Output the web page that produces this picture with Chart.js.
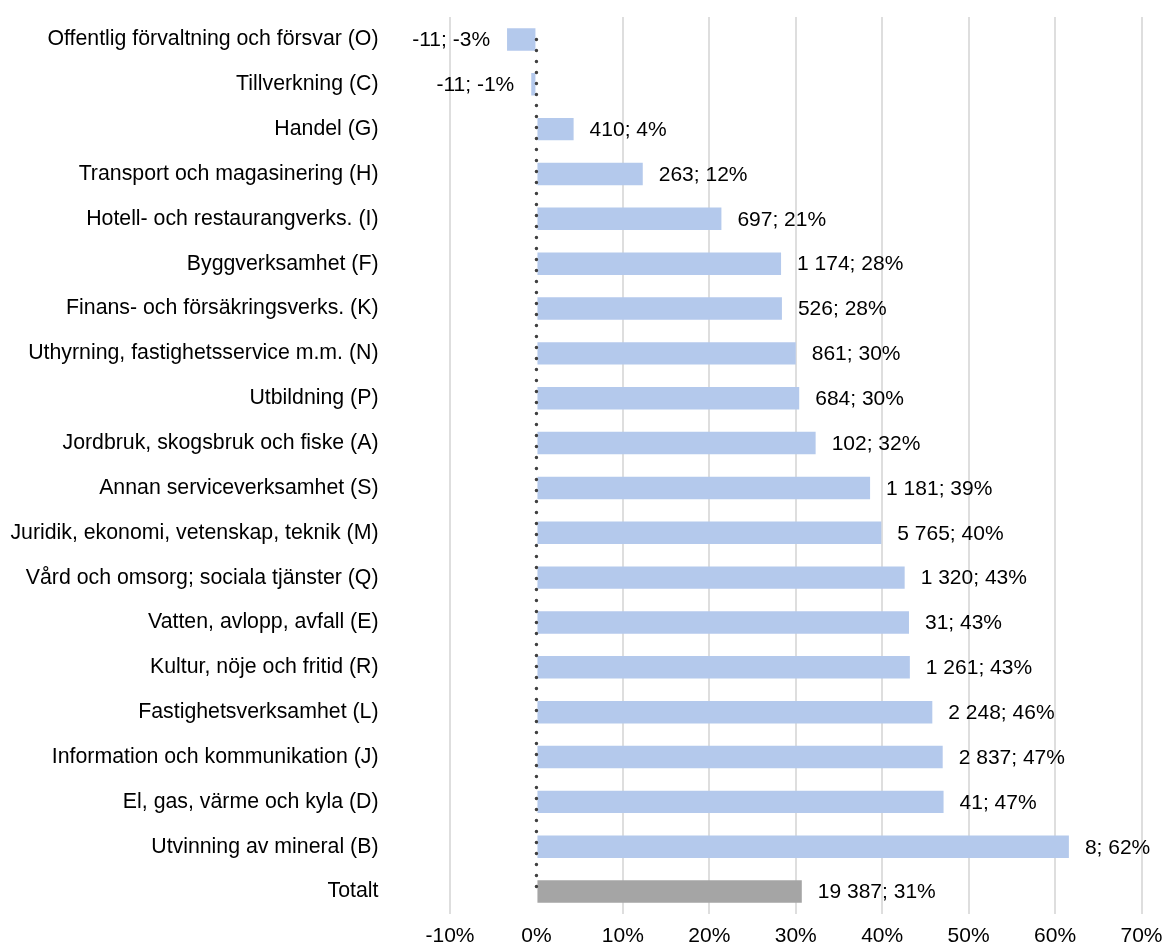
<!DOCTYPE html>
<html>
<head>
<meta charset="utf-8">
<script src="https://cdn.jsdelivr.net/npm/chart.js@4/dist/chart.umd.min.js"></script>
<style>
  html, body { margin: 0; padding: 0; background: #fff; }
  #wrap { width: 1165px; height: 944px; position: relative; }
</style>
</head>
<body>
<div id="wrap"><canvas id="c" width="1165" height="944"></canvas></div>
<script>
const categories = [
  "Offentlig förvaltning och försvar (O)",
  "Tillverkning (C)",
  "Handel (G)",
  "Transport och magasinering (H)",
  "Hotell- och restaurangverks. (I)",
  "Byggverksamhet (F)",
  "Finans- och försäkringsverks. (K)",
  "Uthyrning, fastighetsservice m.m. (N)",
  "Utbildning (P)",
  "Jordbruk, skogsbruk och fiske (A)",
  "Annan serviceverksamhet (S)",
  "Juridik, ekonomi, vetenskap, teknik (M)",
  "Vård och omsorg; sociala tjänster (Q)",
  "Vatten, avlopp, avfall (E)",
  "Kultur, nöje och fritid (R)",
  "Fastighetsverksamhet (L)",
  "Information och kommunikation (J)",
  "El, gas, värme och kyla (D)",
  "Utvinning av mineral (B)",
  "Totalt"
];
const changePct = [-3.4, -0.6, 4.3, 12.3, 21.4, 28.3, 28.4, 30.0, 30.4, 32.3, 38.6, 39.9, 42.6, 43.1, 43.2, 45.8, 47.0, 47.1, 61.6, 30.7];
const counts = ["-11", "-11", "410", "263", "697", "1 174", "526", "861", "684", "102", "1 181", "5 765", "1 320", "31", "1 261", "2 248", "2 837", "41", "8", "19 387"];
const pctLabels = ["-3%", "-1%", "4%", "12%", "21%", "28%", "28%", "30%", "30%", "32%", "39%", "40%", "43%", "43%", "43%", "46%", "47%", "47%", "62%", "31%"];
const xTickMin = -10, xTickMax = 70, xTickStep = 10;

const FONT = '"Liberation Sans", Arial, sans-serif';
const barColors = categories.map(c => c === "Totalt" ? "#A5A5A5" : "#B4C9EC");

const zeroLine = {
  id: 'zeroLine',
  afterDatasetsDraw(chart) {
    const ctx = chart.ctx, xs = chart.scales.x, ys = chart.scales.y;
    const x = xs.getPixelForValue(0);
    const y0 = ys.getPixelForValue(0);
    const y1 = ys.getPixelForValue(categories.length - 1);
    ctx.save();
    ctx.strokeStyle = '#404040';
    ctx.lineWidth = 3.5;
    ctx.lineCap = 'round';
    ctx.setLineDash([0, 11]);
    ctx.beginPath();
    ctx.moveTo(x, y0);
    ctx.lineTo(x, y1);
    ctx.stroke();
    ctx.restore();
  }
};

const barLabels = {
  id: 'barLabels',
  afterDatasetsDraw(chart) {
    const ctx = chart.ctx;
    const meta = chart.getDatasetMeta(0);
    ctx.save();
    ctx.font = '21px ' + FONT;
    ctx.fillStyle = '#000';
    ctx.textBaseline = 'middle';
    meta.data.forEach((bar, i) => {
      const v = changePct[i];
      const txt = counts[i] + '; ' + pctLabels[i];
      if (v >= 0) { ctx.textAlign = 'left'; ctx.fillText(txt, bar.x + 16, bar.y + 1); }
      else { ctx.textAlign = 'right'; ctx.fillText(txt, bar.x - 17, bar.y + 1); }
    });
    ctx.restore();
  }
};

new Chart(document.getElementById('c'), {
  type: 'bar',
  data: {
    labels: categories,
    datasets: [{
      data: changePct,
      backgroundColor: barColors,
      borderWidth: 0,
      categoryPercentage: 1.0,
      barPercentage: 0.5
    }]
  },
  options: {
    indexAxis: 'y',
    responsive: false,
    animation: false,
    devicePixelRatio: 1,
    layout: { padding: { top: 17, right: 23.5, bottom: 0, left: 0 } },
    plugins: { legend: { display: false }, tooltip: { enabled: false } },
    scales: {
      x: {
        min: xTickMin, max: xTickMax,
        ticks: {
          stepSize: xTickStep,
          color: '#000',
          font: { family: FONT, size: 21 },
          padding: 10,
          callback: v => v + '%'
        },
        grid: {
          drawTicks: false,
          lineWidth: 2,
          color: ctx => (ctx.tick && ctx.tick.value === 0) ? 'rgba(0,0,0,0)' : '#DEDEDE'
        },
        border: { display: false },
        afterFit: s => { s.height = 30; s.paddingLeft = 0; s.paddingRight = 0; }
      },
      y: {
        ticks: {
          color: '#000',
          font: { family: FONT, size: 21.3 },
          padding: 71.5,
          autoSkip: false
        },
        grid: { display: false, drawTicks: false },
        border: { display: false },
        afterFit: s => { s.width = 450; s.paddingTop = 0; s.paddingBottom = 0; }
      }
    }
  },
  plugins: [zeroLine, barLabels]
});
</script>
</body>
</html>
